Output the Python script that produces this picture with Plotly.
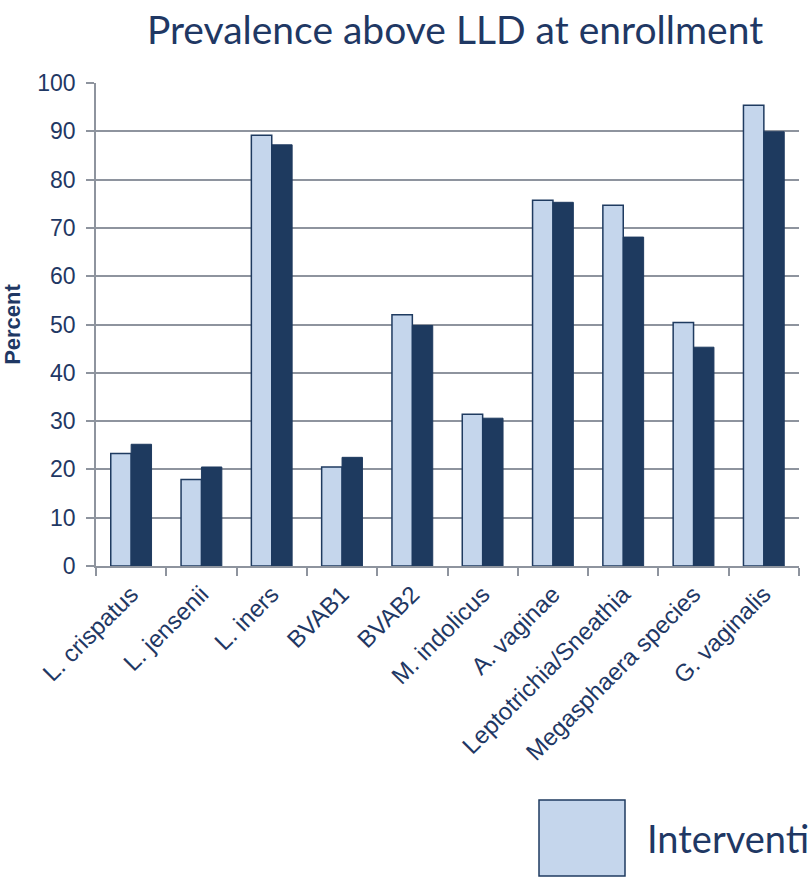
import plotly.graph_objects as go

categories = ["L. crispatus", "L. jensenii", "L. iners", "BVAB1", "BVAB2",
              "M. indolicus", "A. vaginae", "Leptotrichia/Sneathia",
              "Megasphaera species", "G. vaginalis"]
intervention = [23.3, 17.9, 89.2, 20.5, 52.0, 31.4, 75.7, 74.7, 50.4, 95.4]
placebo = [25.2, 20.5, 87.2, 22.5, 49.8, 30.6, 75.3, 68.1, 45.3, 89.9]
y_ticks = [0, 10, 20, 30, 40, 50, 60, 70, 80, 90, 100]

NAVY = "#1f3b60"
TEXT = "#1f3864"
LIGHT = "#c5d6ec"
GRID = "#8e949e"

fig = go.Figure()
fig.add_trace(go.Bar(x=categories, y=intervention, name="Intervention",
                     marker=dict(color=LIGHT, line=dict(color=NAVY, width=1.5))))
fig.add_trace(go.Bar(x=categories, y=placebo, name="Placebo",
                     marker=dict(color="#1e3a5f", line=dict(color="#1e3a5f", width=1))))

fig.update_layout(
    width=808, height=880,
    margin=dict(l=96, r=9, t=83, b=314),
    paper_bgcolor="white", plot_bgcolor="white",
    barmode="group", bargap=0.42, bargroupgap=0,
    showlegend=False,
    title=dict(text="Prevalence above LLD at enrollment",
               font=dict(family="Lato", size=39, color=TEXT),
               x=455/808, xanchor="center", y=1 - 30/880, yanchor="middle"),
    font=dict(family="Liberation Sans, Arial", color=TEXT),
)
fig.update_xaxes(
    type="category", tickangle=-45, tickfont=dict(size=24, color=TEXT),
    showline=True, linecolor=GRID, linewidth=1.5,
    ticks="outside", ticklen=8, tickcolor=GRID, tickwidth=1.5,
    tickson="boundaries", showgrid=False, ticklabelstandoff=3,
)
fig.update_yaxes(
    range=[0, 100], tickvals=y_ticks, tickfont=dict(size=23, color=TEXT),
    showline=True, linecolor=GRID, linewidth=1.5,
    ticks="outside", ticklen=8, tickcolor=GRID, tickwidth=1.5,
    showgrid=True, gridcolor=GRID, gridwidth=1.5, zeroline=False,
    ticklabelstandoff=6,
    title=dict(text="<b>Percent</b>", font=dict(size=22, color=TEXT), standoff=12),
)

# legend drawn as a large swatch plus label (cut off at the right edge as in the source)
fig.add_shape(type="rect", xref="paper", yref="paper",
              x0=(539 - 96) / 703, x1=(625 - 96) / 703,
              y0=(566 - 876) / 483, y1=(566 - 800) / 483,
              fillcolor=LIGHT, line=dict(color=NAVY, width=1.5))
fig.add_annotation(text="Intervention", xref="paper", yref="paper",
                   x=(645 - 96) / 703, y=(566 - 838) / 483,
                   xanchor="left", yanchor="middle", showarrow=False,
                   font=dict(family="Lato", size=38, color=TEXT))

fig.write_html("out.html")
